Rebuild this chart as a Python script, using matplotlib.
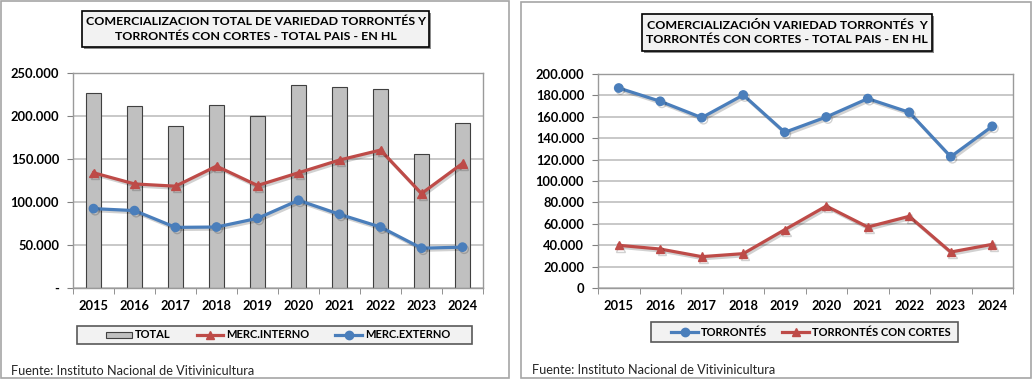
import matplotlib
matplotlib.use("Agg")
import matplotlib.pyplot as plt
from matplotlib.patches import Rectangle
from matplotlib.lines import Line2D
import matplotlib.patheffects as pe
import numpy as np

# --- DATOS ---
years = ["2015", "2016", "2017", "2018", "2019", "2020", "2021", "2022", "2023", "2024"]
total = [226200, 211100, 188500, 213000, 199800, 236400, 234000, 231700, 155800, 192400]
merc_interno = [134000, 121000, 118400, 141700, 119200, 134000, 148800, 160400, 109800, 144900]
merc_externo = [92300, 90000, 70500, 70900, 81000, 102000, 85700, 70900, 46300, 47500]
torrontes = [186900, 174500, 159200, 180400, 145500, 159800, 177000, 164200, 122700, 151100]
torrontes_cortes = [39900, 36400, 29300, 32100, 54500, 76600, 57000, 67000, 33600, 40800]

title_left = "COMERCIALIZACION TOTAL DE VARIEDAD TORRONTÉS Y\nTORRONTÉS CON CORTES - TOTAL PAIS - EN HL"
title_right = "COMERCIALIZACIÓN VARIEDAD TORRONTÉS  Y\nTORRONTÉS CON CORTES - TOTAL PAIS - EN HL"
fuente = "Fuente: Instituto Nacional de Vitivinicultura"

# --- ESTILO ---
RED = "#BE4B48"
BLUE = "#4A7EBB"
GRID = "#BFBFBF"
FONT = "Lato"
W, H = 1033, 379
plt.rcParams["font.family"] = [FONT, "DejaVu Sans"]

fig = plt.figure(figsize=(W / 100, H / 100), dpi=100)


def box(x0, y0, x1, y1):
    # pixeles (origen arriba-izquierda) -> coordenadas de figura
    return [x0 / W, 1 - y1 / H, (x1 - x0) / W, (y1 - y0) / H]


def fx(px):
    return px / W


def fy(py):
    return 1 - py / H


def fmt(v, zero):
    if v == 0:
        return zero
    return f"{int(v):,}".replace(",", ".")


shadow = [pe.SimpleLineShadow(offset=(1.2, -1.5), alpha=0.18, shadow_color="black"), pe.Normal()]


def style_axes(ax, ymax, step, zero):
    x = np.arange(len(years))
    ax.set_xlim(-0.5, len(years) - 0.5)
    ax.set_ylim(0, ymax)
    ax.set_yticks(np.arange(0, ymax + 1, step))
    ax.set_yticklabels([fmt(v, zero) for v in np.arange(0, ymax + 1, step)],
                       fontsize=9.3, fontweight="bold")
    ax.set_xticks(x)
    ax.set_xticklabels(years, fontsize=9.3, fontweight="bold")
    ax.set_xticks(np.arange(-0.5, len(years)), minor=True)
    ax.tick_params(axis="x", which="major", length=0, pad=9)
    ax.tick_params(axis="x", which="minor", length=4, color="#808080")
    ax.tick_params(axis="y", length=4, color="#808080", pad=6)
    ax.grid(axis="y", color=GRID, linewidth=1.2)
    ax.set_axisbelow(True)
    for s in ax.spines.values():
        s.set_color("#9A9A9A")
        s.set_linewidth(1)
    return x


# --- BORDES DE PANELES ---
for b in [box(1, 1, 509, 378), box(521, 2, 1031, 378)]:
    fig.add_artist(Rectangle((b[0], b[1]), b[2], b[3], transform=fig.transFigure,
                             fill=False, edgecolor="#A6A6A6", linewidth=1.2))

# --- GRAFICO IZQUIERDO ---
axl = fig.add_axes(box(73, 73, 483, 288))
x = style_axes(axl, 250000, 50000, "-")
axl.bar(x, total, width=0.39, color="#C0C0C0", edgecolor="#404040", linewidth=0.8)
axl.plot(x, merc_interno, color=RED, linewidth=2.3, marker="^", markersize=6, path_effects=shadow)
axl.plot(x, merc_externo, color=BLUE, linewidth=2.3, marker="o", markersize=6, path_effects=shadow)

# --- GRAFICO DERECHO ---
axr = fig.add_axes(box(598, 74, 1013, 288))
x = style_axes(axr, 200000, 20000, "0")
axr.plot(x, torrontes, color=BLUE, linewidth=2.3, marker="o", markersize=6, path_effects=shadow)
axr.plot(x, torrontes_cortes, color=RED, linewidth=2.3, marker="^", markersize=6, path_effects=shadow)

# --- TITULOS ---
for (x0, y0, x1, y1), t in [((82, 11, 429, 47), title_left), ((642, 14, 932, 51), title_right)]:
    b = box(x0, y0, x1, y1)
    fig.add_artist(Rectangle((b[0] + 2 / W, b[1] - 2 / H), b[2], b[3], transform=fig.transFigure,
                             facecolor="#8C8C8C", edgecolor="none"))
    fig.add_artist(Rectangle((b[0], b[1]), b[2], b[3], transform=fig.transFigure,
                             facecolor="#F2F2F2", edgecolor="black", linewidth=1.2))
    fig.text(b[0] + b[2] / 2, b[1] + b[3] / 2, t, ha="center", va="center",
             fontsize=8.9, fontweight="bold", linespacing=1.4)

# --- LEYENDAS (dibujadas a mano) ---
legends = [
    ((77, 326, 472, 344), 335, [
        ("bar", 106, 132, "TOTAL", None, None),
        ("line", 197, 223, "MERC.INTERNO", RED, "^"),
        ("line", 335, 362, "MERC.EXTERNO", BLUE, "o"),
    ]),
    ((651, 322, 958, 342), 332, [
        ("line", 671, 698, "TORRONTÉS", BLUE, "o"),
        ("line", 782, 809, "TORRONTÉS CON CORTES", RED, "^"),
    ]),
]
for (x0, y0, x1, y1), yc, entries in legends:
    b = box(x0, y0, x1, y1)
    fig.add_artist(Rectangle((b[0], b[1]), b[2], b[3], transform=fig.transFigure,
                             facecolor="#F2F2F2", edgecolor="#595959", linewidth=1.2))
    for kind, h0, h1, label, col, mk in entries:
        if kind == "bar":
            fig.add_artist(Rectangle((fx(h0), fy(yc + 3)), fx(h1) - fx(h0), 6 / H,
                                     transform=fig.transFigure, facecolor="#C0C0C0",
                                     edgecolor="#404040", linewidth=0.8))
        else:
            fig.add_artist(Line2D([fx(h0), fx(h1)], [fy(yc), fy(yc)], transform=fig.transFigure,
                                  color=col, linewidth=2.3))
            fig.add_artist(Line2D([fx((h0 + h1) / 2)], [fy(yc)], transform=fig.transFigure,
                                  color=col, marker=mk, markersize=6, linestyle="none"))
        fig.text(fx(h1 + 3), fy(yc), label, ha="left", va="center",
                 fontsize=8, fontweight="bold")

# --- FUENTE ---
fig.text(11 / W, 1 - 371 / H, fuente, ha="left", va="center", fontsize=9.2, color="#262626")
fig.text(532 / W, 1 - 370 / H, fuente, ha="left", va="center", fontsize=9.2, color="#262626")

fig.savefig("out.png", dpi=100)
